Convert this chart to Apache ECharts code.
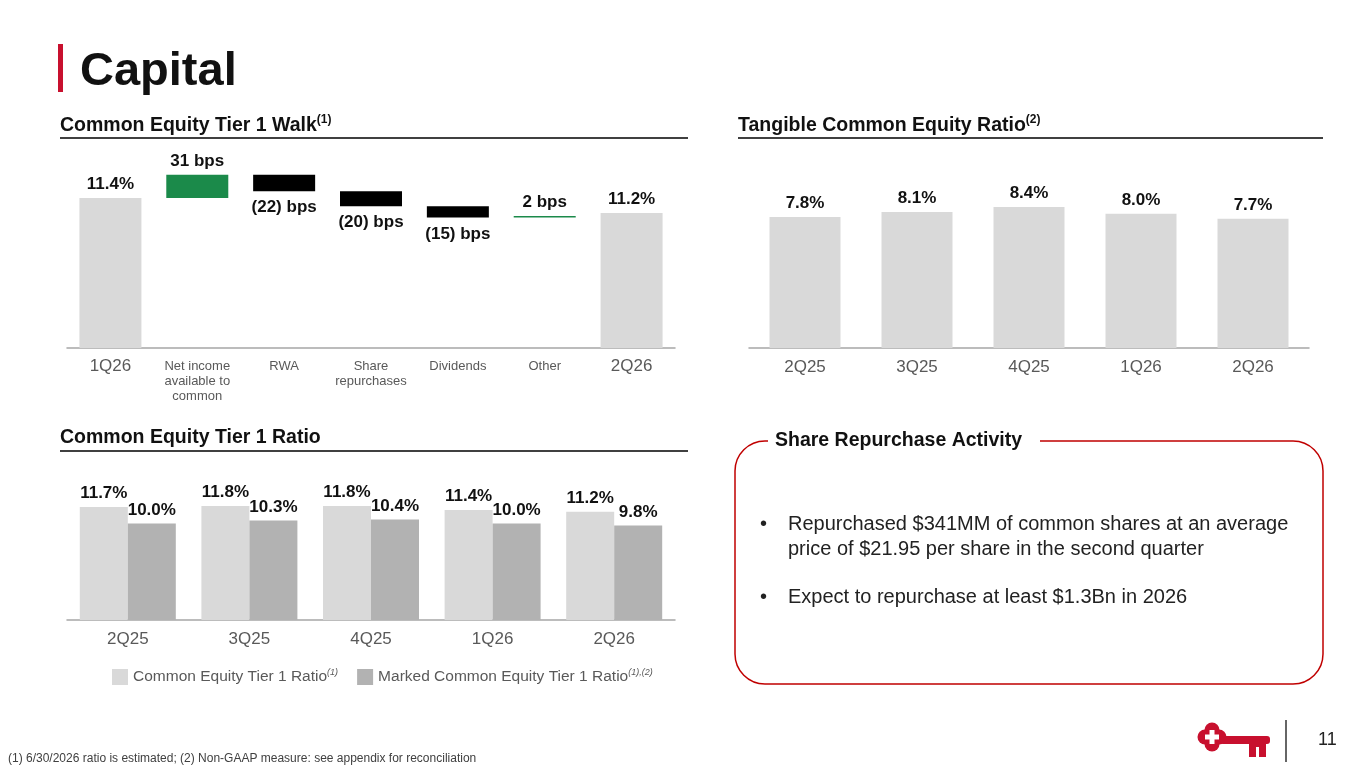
<!DOCTYPE html>
<html>
<head>
<meta charset="utf-8">
<script src="https://cdn.jsdelivr.net/npm/echarts@6/dist/echarts.min.js"></script>
<style>
  html, body { margin: 0; padding: 0; background: #fff; }
  #main { width: 1365px; height: 768px; }
</style>
</head>
<body>
<div id="main"></div>
<script>
// CET1 walk
const walkCats = ['1Q26', 'Net income\navailable to\ncommon', 'RWA', 'Share\nrepurchases', 'Dividends', 'Other', '2Q26'];
const walkStart = 11.4;
const walkDeltas = [0.31, -0.22, -0.20, -0.15, 0.02];
const walkEnd = 11.2;
const walkLabels = ['11.4%', '31 bps', '(22) bps', '(20) bps', '(15) bps', '2 bps', '11.2%'];

// Tangible common equity
const tceCats = ['2Q25', '3Q25', '4Q25', '1Q26', '2Q26'];
const tceValues = [7.8, 8.1, 8.4, 8.0, 7.7];

// CET1 ratio
const cetCats = ['2Q25', '3Q25', '4Q25', '1Q26', '2Q26'];
const cetValues = [11.7, 11.8, 11.8, 11.4, 11.2];
const markedValues = [10.0, 10.3, 10.4, 10.0, 9.8];
const cetNames = ['Common Equity Tier 1 Ratio', 'Marked Common Equity Tier 1 Ratio'];
const cetNotes = ['(1)', '(1),(2)'];

const FONT = '"Liberation Sans", Arial, sans-serif';
const GRAY = '#d9d9d9';
const DARK = '#b2b2b2';
const GREEN = '#1b8a4a';
const RED = '#c8102e';

// build the walk: invisible helper + up/down pieces
const helper = ['-'], ups = ['-'], downs = ['-'], totals = [walkStart];
let cum = walkStart;
walkDeltas.forEach(d => {
    if (d >= 0) {
        helper.push(cum); ups.push(d); downs.push('-');
    } else {
        helper.push(cum + d); ups.push('-'); downs.push(-d);
    }
    cum += d;
    totals.push('-');
});
helper.push('-'); ups.push('-'); downs.push('-');
totals.push(walkEnd);

const boldLabel = { color: '#111', fontFamily: FONT, fontWeight: 'bold', fontSize: 17 };
const axisLine = { show: true, lineStyle: { color: '#a6a6a6', width: 1.5 } };

const header = (x, y, text, note) => ({
    type: 'text', left: x, top: y,
    style: {
        text: '{b|' + text + '}' + (note ? '{s|' + note + '}' : ''),
        rich: {
            b: { fontFamily: FONT, fontWeight: 'bold', fontSize: 19.5, fill: '#111', lineHeight: 24 },
            s: { fontFamily: FONT, fontWeight: 'bold', fontSize: 12, fill: '#111', verticalAlign: 'top', lineHeight: 24, padding: [0, 0, 8, 0] }
        }
    }
});

const chart = echarts.init(document.getElementById('main'));
chart.setOption({
    animation: false,
    textStyle: { fontFamily: FONT },
    legend: {
        data: cetNames,
        left: 107, top: 663,
        itemWidth: 16, itemHeight: 16, itemGap: 19,
        icon: 'rect',
        formatter: name => name + '{s|' + cetNotes[cetNames.indexOf(name)] + '}',
        textStyle: {
            color: '#595959', fontSize: 15.5, fontFamily: FONT,
            rich: { s: { fontSize: 9, fontStyle: 'italic', color: '#595959', verticalAlign: 'top', padding: [0, 0, 9, 0] } }
        }
    },
    grid: [
        { left: 67, width: 608, top: 150, bottom: 420 },
        { left: 749, width: 560, top: 170, bottom: 420 },
        { left: 67, width: 608, top: 480, bottom: 148 }
    ],
    xAxis: [
        {
            gridIndex: 0, type: 'category',
            data: walkCats.map((c, i) => (i === 0 || i === walkCats.length - 1) ? { value: c, textStyle: { fontSize: 17 } } : c),
            axisLine: axisLine, axisTick: { show: false },
            axisLabel: { color: '#595959', fontSize: 13, lineHeight: 15, margin: 11, interval: 0 }
        },
        {
            gridIndex: 1, type: 'category', data: tceCats,
            axisLine: axisLine, axisTick: { show: false },
            axisLabel: { color: '#595959', fontSize: 17, margin: 11 }
        },
        {
            gridIndex: 2, type: 'category', data: cetCats,
            axisLine: axisLine, axisTick: { show: false },
            axisLabel: { color: '#595959', fontSize: 17, margin: 11 }
        }
    ],
    yAxis: [
        { gridIndex: 0, type: 'value', min: 9.4, max: 12.04, show: false },
        { gridIndex: 1, type: 'value', min: 0, max: 10.6, show: false },
        { gridIndex: 2, type: 'value', min: 0, max: 14.5, show: false }
    ],
    series: [
        {
            name: 'helper', type: 'bar', stack: 'walk', xAxisIndex: 0, yAxisIndex: 0,
            barWidth: 62, data: helper, itemStyle: { color: 'transparent' }, silent: true
        },
        {
            name: 'totals', type: 'bar', stack: 'walk', xAxisIndex: 0, yAxisIndex: 0,
            barWidth: 62, data: totals, itemStyle: { color: GRAY },
            label: { show: true, position: 'top', ...boldLabel, formatter: p => walkLabels[p.dataIndex] }
        },
        {
            name: 'increase', type: 'bar', stack: 'walk', xAxisIndex: 0, yAxisIndex: 0,
            barWidth: 62, data: ups, itemStyle: { color: GREEN },
            label: { show: true, position: 'top', ...boldLabel, formatter: p => walkLabels[p.dataIndex] }
        },
        {
            name: 'decrease', type: 'bar', stack: 'walk', xAxisIndex: 0, yAxisIndex: 0,
            barWidth: 62, data: downs, itemStyle: { color: '#000' },
            label: { show: true, position: 'bottom', distance: 8, ...boldLabel, formatter: p => walkLabels[p.dataIndex] }
        },
        {
            name: 'TCE', type: 'bar', xAxisIndex: 1, yAxisIndex: 1,
            barWidth: 71, data: tceValues, itemStyle: { color: GRAY },
            label: { show: true, position: 'top', ...boldLabel, formatter: p => p.value.toFixed(1) + '%' }
        },
        {
            name: cetNames[0], type: 'bar', xAxisIndex: 2, yAxisIndex: 2,
            barWidth: 48, barGap: '0%', data: cetValues, itemStyle: { color: GRAY },
            label: { show: true, position: 'top', ...boldLabel, formatter: p => p.value.toFixed(1) + '%' }
        },
        {
            name: cetNames[1], type: 'bar', xAxisIndex: 2, yAxisIndex: 2,
            barWidth: 48, barGap: '0%', data: markedValues, itemStyle: { color: DARK },
            label: { show: true, position: 'top', ...boldLabel, formatter: p => p.value.toFixed(1) + '%' }
        }
    ],
    graphic: [
        // title
        { type: 'rect', shape: { x: 58, y: 44, width: 5, height: 48 }, style: { fill: RED } },
        { type: 'text', left: 80, top: 49, style: { text: 'Capital', fontFamily: FONT, fontWeight: 'bold', fontSize: 47, fill: '#111' } },
        // section headers
        header(60, 114, 'Common Equity Tier 1 Walk', '(1)'),
        { type: 'line', shape: { x1: 60, y1: 138, x2: 688, y2: 138 }, style: { stroke: '#404040', lineWidth: 2 } },
        header(738, 114, 'Tangible Common Equity Ratio', '(2)'),
        { type: 'line', shape: { x1: 738, y1: 138, x2: 1323, y2: 138 }, style: { stroke: '#404040', lineWidth: 2 } },
        header(60, 428, 'Common Equity Tier 1 Ratio', ''),
        { type: 'line', shape: { x1: 60, y1: 451, x2: 688, y2: 451 }, style: { stroke: '#404040', lineWidth: 2 } },
        // share repurchase box
        { type: 'rect', shape: { x: 735, y: 441, width: 588, height: 243, r: 30 }, style: { fill: 'none', stroke: '#c00000', lineWidth: 1.5 } },
        { type: 'rect', shape: { x: 768, y: 430, width: 272, height: 22 }, style: { fill: '#fff' } },
        { type: 'text', left: 775, top: 429, style: { text: 'Share Repurchase Activity', fontFamily: FONT, fontWeight: 'bold', fontSize: 19.5, lineHeight: 24, fill: '#111' } },
        { type: 'text', left: 760, top: 512, style: { text: '•', fontFamily: FONT, fontSize: 20, lineHeight: 25, fill: '#222' } },
        { type: 'text', left: 788, top: 512, style: { text: 'Repurchased $341MM of common shares at an average\nprice of $21.95 per share in the second quarter', fontFamily: FONT, fontSize: 20, lineHeight: 25, fill: '#222' } },
        { type: 'text', left: 760, top: 585, style: { text: '•', fontFamily: FONT, fontSize: 20, lineHeight: 25, fill: '#222' } },
        { type: 'text', left: 788, top: 585, style: { text: 'Expect to repurchase at least $1.3Bn in 2026', fontFamily: FONT, fontSize: 20, lineHeight: 25, fill: '#222' } },
        // footnote
        { type: 'text', left: 8, top: 752, style: { text: '(1) 6/30/2026 ratio is estimated; (2) Non-GAAP measure: see appendix for reconciliation', fontFamily: FONT, fontSize: 12, lineHeight: 14, fill: '#404040' } },
        // logo
        { type: 'circle', shape: { cx: 1205, cy: 737, r: 7.5 }, style: { fill: RED } },
        { type: 'circle', shape: { cx: 1219, cy: 737, r: 7.5 }, style: { fill: RED } },
        { type: 'circle', shape: { cx: 1212, cy: 730, r: 7.5 }, style: { fill: RED } },
        { type: 'circle', shape: { cx: 1212, cy: 744, r: 7.5 }, style: { fill: RED } },
        { type: 'rect', shape: { x: 1205, y: 730, width: 14, height: 14 }, style: { fill: RED } },
        { type: 'rect', shape: { x: 1220, y: 736, width: 50, height: 8, r: 3 }, style: { fill: RED } },
        { type: 'rect', shape: { x: 1249, y: 742, width: 17, height: 5 }, style: { fill: RED } },
        { type: 'rect', shape: { x: 1249, y: 742, width: 7, height: 15 }, style: { fill: RED } },
        { type: 'rect', shape: { x: 1259, y: 742, width: 7, height: 15 }, style: { fill: RED } },
        { type: 'rect', shape: { x: 1209.5, y: 730, width: 5, height: 14 }, style: { fill: '#fff' } },
        { type: 'rect', shape: { x: 1205, y: 734.5, width: 14, height: 5 }, style: { fill: '#fff' } },
        { type: 'line', shape: { x1: 1286, y1: 720, x2: 1286, y2: 762 }, style: { stroke: '#333', lineWidth: 1.5 } },
        { type: 'text', left: 1318, top: 730, style: { text: '11', fontFamily: FONT, fontSize: 18, lineHeight: 20, fill: '#222' } }
    ]
});
</script>
</body>
</html>
